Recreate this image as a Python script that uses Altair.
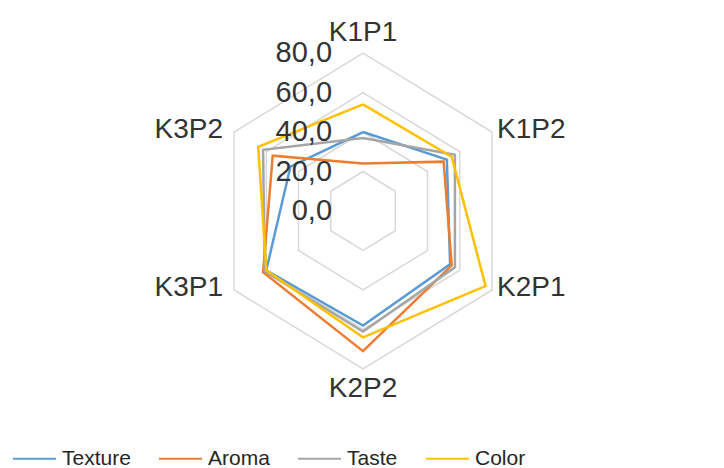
import altair as alt
import pandas as pd

categories = ["K1P1", "K1P2", "K2P1", "K2P2", "K3P1", "K3P2"]
texture = [40, 52, 54, 58, 60, 45]
aroma = [24, 50, 55, 71, 62, 56]
taste = [37, 57, 57, 61, 61, 62]
color_vals = [54, 55, 76, 64, 60, 65]
series_names = ["Texture", "Aroma", "Taste", "Color"]
series_colors = ["#5B9BD5", "#ED7D31", "#A5A5A5", "#FFC000"]
ticks = [0, 20, 40, 60, 80]
tick_labels = ["0,0", "20,0", "40,0", "60,0", "80,0"]

# build long tables (closing polygon by repeating the first category)
n = len(categories)
rows = []
for name, vals in zip(series_names, [texture, aroma, taste, color_vals]):
    for i in range(n + 1):
        rows.append({"series": name, "idx": i, "cat": categories[i % n], "value": vals[i % n]})
series_df = pd.DataFrame(rows)

grid_rows = []
for t in ticks[1:]:
    for i in range(n + 1):
        grid_rows.append({"level": t, "idx": i})
grid_df = pd.DataFrame(grid_rows)

tick_df = pd.DataFrame({"level": ticks, "label": tick_labels})
cat_df = pd.DataFrame({"cat": categories, "idx": list(range(n))})

W, H = 708, 452
xs = alt.Scale(domain=[-190.7, 189.6], nice=False, zero=False)
ys = alt.Scale(domain=[-126.1, 102.8], nice=False, zero=False)
FONT = "Liberation Sans"

grid = alt.Chart(grid_df).transform_calculate(
    ang="PI/2 - datum.idx*PI/3",
    gx="datum.level*cos(datum.ang)",
    gy="datum.level*sin(datum.ang)",
).mark_line(color="#D9D9D9", strokeWidth=1.5).encode(
    x=alt.X("gx:Q", scale=xs, axis=None),
    y=alt.Y("gy:Q", scale=ys, axis=None),
    detail="level:N",
    order="idx:Q",
)

lines = alt.Chart(series_df).transform_calculate(
    ang="PI/2 - datum.idx*PI/3",
    px="datum.value*cos(datum.ang)",
    py="datum.value*sin(datum.ang)",
).mark_line(strokeWidth=2.5).encode(
    x=alt.X("px:Q", scale=xs, axis=None),
    y=alt.Y("py:Q", scale=ys, axis=None),
    color=alt.Color(
        "series:N",
        sort=series_names,
        scale=alt.Scale(domain=series_names, range=series_colors),
        legend=alt.Legend(
            orient="none", legendX=4, legendY=428, direction="horizontal", title=None,
            symbolSize=1849, symbolStrokeWidth=2,
            labelFontSize=21, labelFont=FONT, labelColor="#262626",
            labelOffset=5, columnPadding=24,
        ),
    ),
    order="idx:Q",
)

tick_text = alt.Chart(tick_df).transform_calculate(
    cx="0"
).mark_text(align="right", baseline="middle", dx=-31, fontSize=29, font=FONT, color="#333333").encode(
    x=alt.X("cx:Q", scale=xs, axis=None),
    y=alt.Y("level:Q", scale=ys, axis=None),
    text="label:N",
)

def cat_layer(filt, radius, align, dx, dy):
    return alt.Chart(cat_df).transform_filter(filt).transform_calculate(
        ang="PI/2 - datum.idx*PI/3",
        lx=f"{radius}*cos(datum.ang)",
        ly=f"{radius}*sin(datum.ang)",
    ).mark_text(align=align, baseline="middle", dx=dx, dy=dy, fontSize=28, font=FONT, color="#333333").encode(
        x=alt.X("lx:Q", scale=xs, axis=None),
        y=alt.Y("ly:Q", scale=ys, axis=None),
        text="cat:N",
    )

cat_center = cat_layer("datum.idx == 0 || datum.idx == 3", 90, "center", 0, 0)
cat_right = cat_layer("datum.idx == 1 || datum.idx == 2", 80, "left", 5, -2)
cat_left = cat_layer("datum.idx == 4 || datum.idx == 5", 80, "right", -11, -2)

chart = alt.layer(grid, lines, tick_text, cat_center, cat_right, cat_left).properties(
    width=W, height=H, padding=0, background="white"
).configure_view(stroke=None)

chart.save("out.html", embed_options={"renderer": "svg", "actions": False})
